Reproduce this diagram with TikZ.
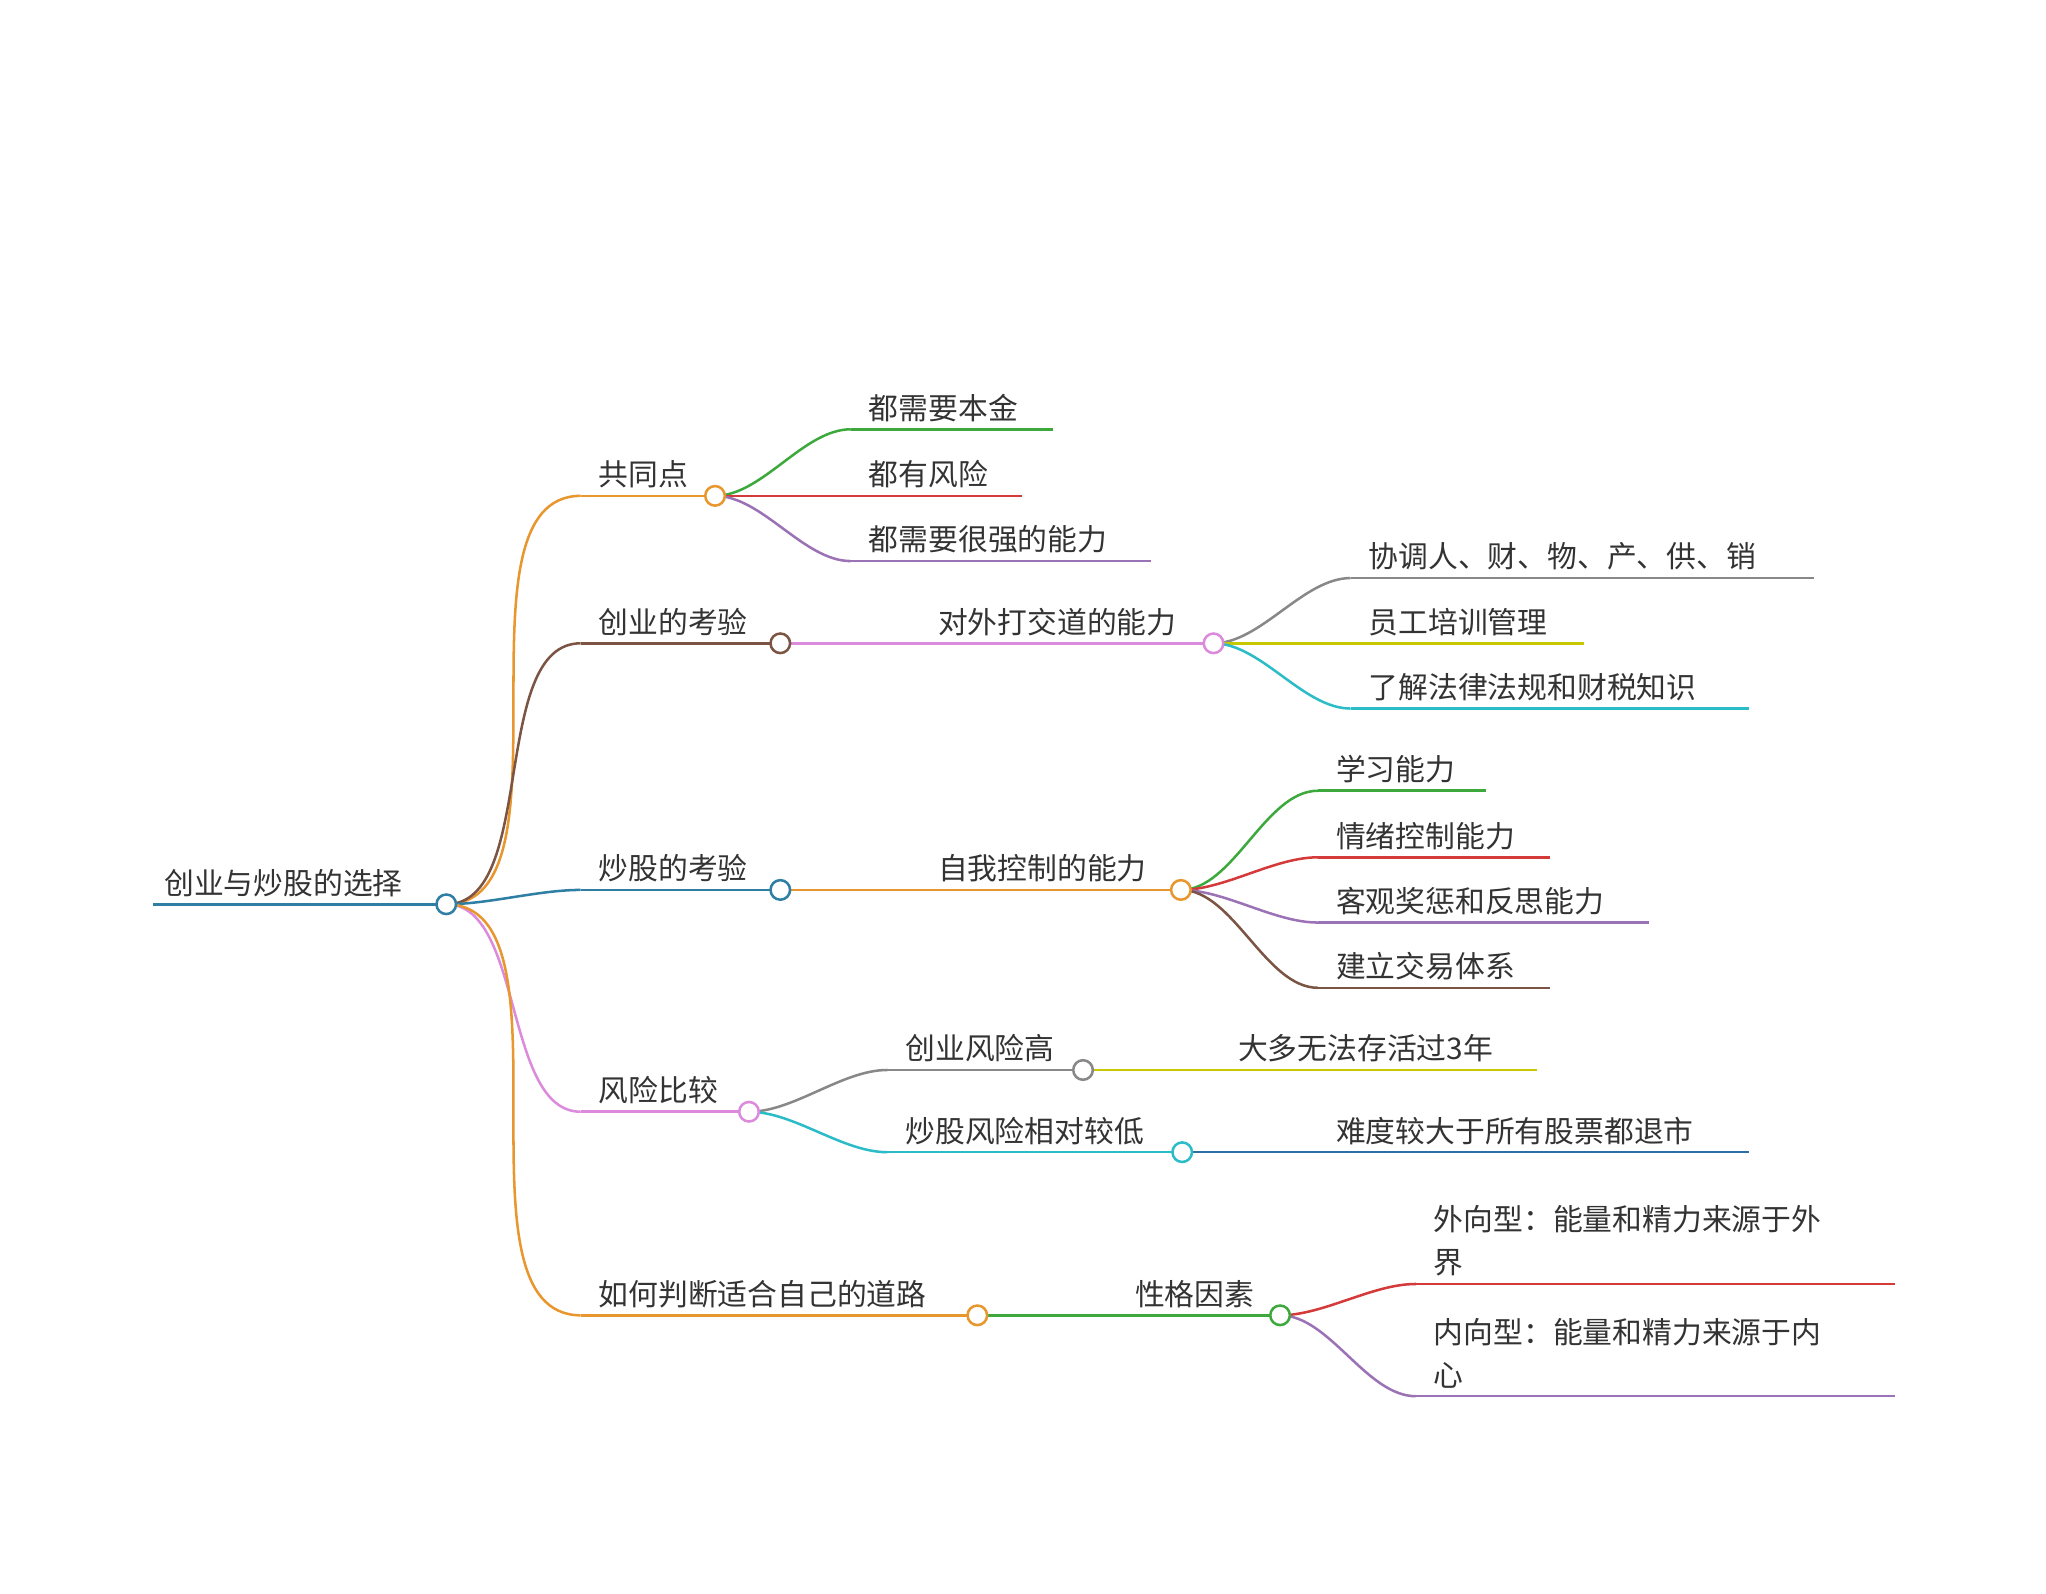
\documentclass[tikz,border=0pt]{standalone}
\usepackage{fontspec}
\setmainfont{Noto Sans CJK SC}
\usetikzlibrary{positioning}
\definecolor{cOrange}{HTML}{E8962E}
\definecolor{cBrown}{HTML}{7B5444}
\definecolor{cTeal}{HTML}{2F7FA5}
\definecolor{cPink}{HTML}{DC8ADC}
\definecolor{cGreen}{HTML}{3DA93D}
\definecolor{cRed}{HTML}{D43A3A}
\definecolor{cPurple}{HTML}{9B72B5}
\definecolor{cGray}{HTML}{888888}
\definecolor{cYellow}{HTML}{C8C800}
\definecolor{cCyan}{HTML}{2BBCC8}
\definecolor{cBlue}{HTML}{2C6FA8}
\tikzset{%
	lbl/.style={%
		anchor=south west, inner sep=2pt, align=left,%
		font=\fontsize{13}{19}\selectfont, text=black!80%
	},%
	dot/.style={%
		circle, draw, fill=white, minimum size=0.3cm, inner sep=0pt, line width=1.1pt%
	},%
	edge/.style={%
		line width=1.1pt, out=0, in=180, looseness=0.8%
	},%
}

\begin{document}
\begin{tikzpicture}[x=0.02cm, y=-0.02cm]
	\useasboundingbox (0,0) rectangle (1568,1221);

	% root
	\coordinate (r0) at (117,693);
	\coordinate (r) at (342,693);
	\draw[cTeal, line width=1.1pt] (r0) -- (r);
	\node[lbl] at (122,691) {创业与炒股的选择};

	% level 1
	\foreach \nm/\y/\xe/\col/\txt in {%
		a/380/548/cOrange/共同点,%
		b/493/598/cBrown/创业的考验,%
		c/682/598/cTeal/炒股的考验,%
		d/852/574/cPink/风险比较,%
		e/1008/749/cOrange/如何判断适合自己的道路}{%
		\coordinate (\nm0) at (445,\y);
		\coordinate (\nm) at (\xe,\y);
		\draw[edge, \col] (r) to (\nm0);
		\draw[\col, line width=1.1pt] (\nm0) -- (\nm);
		\node[lbl] at (455,\y-2) {\txt};
	}

	% level 2 and 3
	\foreach \src/\nm/\xs/\y/\xe/\col/\txt in {%
		a/a1/652/329/807/cGreen/都需要本金,%
		a/a2/652/380/783/cRed/都有风险,%
		a/a3/652/430/882/cPurple/都需要很强的能力,%
		b/b1/705/493/930/cPink/对外打交道的能力,%
		b1/b11/1035/443/1390/cGray/协调人、财、物、产、供、销,%
		b1/b12/1035/493/1214/cYellow/员工培训管理,%
		b1/b13/1035/543/1340/cCyan/了解法律法规和财税知识,%
		c/c1/705/682/905/cOrange/自我控制的能力,%
		c1/c11/1010/606/1139/cGreen/学习能力,%
		c1/c12/1010/657/1188/cRed/情绪控制能力,%
		c1/c13/1010/707/1264/cPurple/客观奖惩和反思能力,%
		c1/c14/1010/757/1188/cBrown/建立交易体系,%
		d/d1/680/820/830/cGray/创业风险高,%
		d1/d11/935/820/1178/cYellow/大多无法存活过3年,%
		d/d2/680/883/906/cCyan/炒股风险相对较低,%
		d2/d21/1010/883/1340/cBlue/难度较大于所有股票都退市,%
		e/e1/856/1008/981/cGreen/性格因素,%
		e1/e11/1085/984/1452/cRed/{外向型：能量和精力来源于外\\界},%
		e1/e12/1085/1070/1452/cPurple/{内向型：能量和精力来源于内\\心}}{%
		\coordinate (\nm0) at (\xs,\y);
		\coordinate (\nm) at (\xe,\y);
		\draw[edge, \col] (\src) to (\nm0);
		\draw[\col, line width=1.1pt] (\nm0) -- (\nm);
		\node[lbl] at (\xs+10,\y-2) {\txt};
	}

	% dots on top
	\foreach \nm/\col in {r/cTeal,a/cOrange,b/cBrown,c/cTeal,d/cPink,e/cOrange,%
		b1/cPink,c1/cOrange,d1/cGray,d2/cCyan,e1/cGreen}{%
		\node[dot, draw=\col] (\nm-dot) at (\nm) {};
	}
\end{tikzpicture}
\end{document}
